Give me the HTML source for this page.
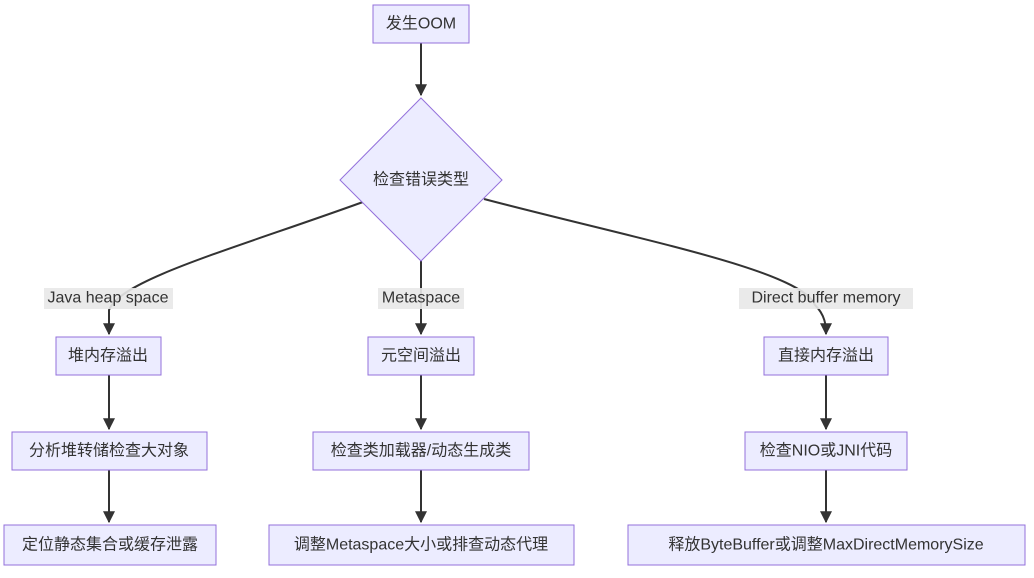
<!DOCTYPE html>
<html><head><meta charset="utf-8"><style>
body{margin:0;background:#fff;}
svg{display:block;font-family:"Liberation Sans","Noto Sans CJK SC",sans-serif;}
.n{fill:#ECECFF;stroke:#9370DB;stroke-width:1;}
.e{fill:none;stroke:#333;stroke-width:2;}
text{font-size:16px;fill:#333;text-anchor:middle;dominant-baseline:central;}
.lb{fill:#e8e8e8;opacity:0.9;}
</style></head><body>
<svg width="1034" height="578" viewBox="0 0 1034 578">
<defs><marker id="a" viewBox="0 0 10 10" refX="9" refY="5" markerWidth="6" markerHeight="6" orient="auto"><path d="M0,0L10,5L0,10z" fill="#333"/></marker></defs>
<!-- edges -->
<path class="e" d="M421,43 L421,95" marker-end="url(#a)"/>
<path class="e" d="M363,202 C230,250 120,280 109,310 L109,334" marker-end="url(#a)"/>
<path class="e" d="M421,261 L421,334" marker-end="url(#a)"/>
<path class="e" d="M484,199 C640,240 800,270 815,305 C825,315 826,325 826,334" marker-end="url(#a)"/>
<path class="e" d="M109,375 L109,429" marker-end="url(#a)"/>
<path class="e" d="M421,375 L421,429" marker-end="url(#a)"/>
<path class="e" d="M826,375 L826,429" marker-end="url(#a)"/>
<path class="e" d="M109,470 L109,522" marker-end="url(#a)"/>
<path class="e" d="M421,470 L421,522" marker-end="url(#a)"/>
<path class="e" d="M826,470 L826,522" marker-end="url(#a)"/>
<!-- labels -->
<rect class="lb" x="44" y="288" width="129" height="21"/><text x="108" y="298">Java heap space</text>
<rect class="lb" x="378" y="288" width="86" height="21"/><text x="421" y="298">Metaspace</text>
<rect class="lb" x="739" y="288" width="174" height="21"/><text x="826" y="298">Direct buffer memory</text>
<!-- nodes -->
<rect class="n" x="373" y="5" width="96" height="38"/><text x="421" y="24">发生OOM</text>
<polygon class="n" points="421,98 502,180 421,261 340,180"/><text x="421" y="180">检查错误类型</text>
<rect class="n" x="56" y="337" width="105" height="38"/><text x="108" y="356">堆内存溢出</text>
<rect class="n" x="368" y="337" width="106" height="38"/><text x="421" y="356">元空间溢出</text>
<rect class="n" x="764" y="337" width="124" height="38"/><text x="826" y="356">直接内存溢出</text>
<rect class="n" x="12" y="432" width="195" height="38"/><text x="109" y="451">分析堆转储检查大对象</text>
<rect class="n" x="313" y="432" width="216" height="38"/><text x="421" y="451">检查类加载器/动态生成类</text>
<rect class="n" x="745" y="432" width="162" height="38"/><text x="826" y="451">检查NIO或JNI代码</text>
<rect class="n" x="4" y="525" width="212" height="40"/><text x="110" y="545">定位静态集合或缓存泄露</text>
<rect class="n" x="269" y="525" width="305" height="40"/><text x="421" y="545">调整Metaspace大小或排查动态代理</text>
<rect class="n" x="628" y="525" width="397" height="40"/><text x="826" y="545">释放ByteBuffer或调整MaxDirectMemorySize</text>
</svg>
</body></html>
